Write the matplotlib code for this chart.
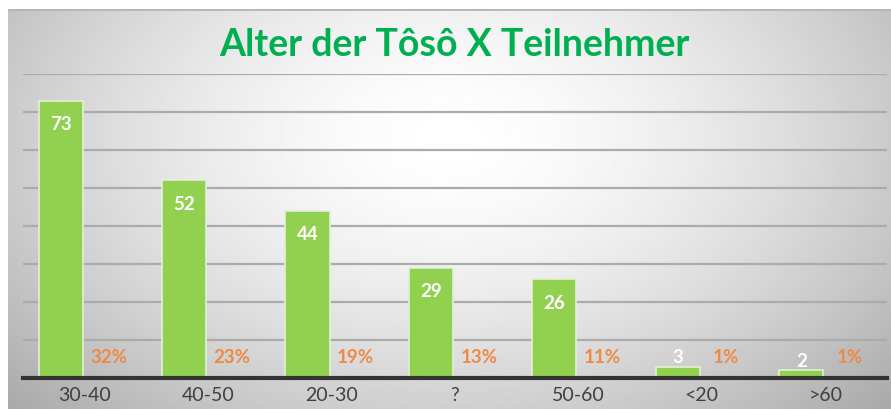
import numpy as np
import matplotlib.pyplot as plt

categories = ['30-40', '40-50', '20-30', '?', '50-60', '<20', '>60']
counts = [73, 52, 44, 29, 26, 3, 2]
percents = [32, 23, 19, 13, 11, 1, 1]
title = 'Alter der Tôsô X Teilnehmer'

plt.rcParams['font.family'] = ['Lato', 'DejaVu Sans']

fig = plt.figure(figsize=(8.91, 4.10), dpi=100)

# radial grey-white background like the office chart area
bg = fig.add_axes([8 / 891, 0, 1 - 8 / 891, 400 / 410])
gx, gy = np.meshgrid(np.linspace(-1, 1, 400), np.linspace(-1, 1, 200))
r = np.sqrt((gx / 1.05) ** 2 + ((gy + 0.35) / 1.5) ** 2)
shade = 1 - 0.22 * np.clip(r, 0, 1.3) ** 1.6
bg.imshow(shade, cmap='gray', vmin=0, vmax=1, aspect='auto', origin='upper',
          extent=[0, 1, 0, 1], interpolation='bilinear')
bg.set_xlim(0, 1)
bg.set_ylim(0, 1)
bg.axhline(1, color='#b5b5b5', linewidth=2)
bg.axis('off')

ax = fig.add_axes([23 / 891, 31 / 410, 864 / 891, 304 / 410])
ax.patch.set_alpha(0)

x = np.arange(len(categories))
off = 0.195
w = 0.357

bars = ax.bar(x - off, counts, width=w, color='#92D050', edgecolor='#E2F0D9',
              linewidth=1.2, zorder=3)

for xi, v in zip(x - off, counts):
    if v >= 10:
        ax.annotate(str(v), (xi, v), xytext=(0, -23), textcoords='offset pixels',
                    ha='center', va='center', color='white', fontsize=13.5,
                    fontweight='bold', zorder=4)
    else:
        ax.annotate(str(v), (xi, v), xytext=(0, 10), textcoords='offset pixels',
                    ha='center', va='center', color='white', fontsize=13.5,
                    fontweight='bold', zorder=4)

for xi, p in zip(x + off, percents):
    ax.annotate(f'{p}%', (xi, 0), xytext=(0, 21), textcoords='offset pixels',
                ha='center', va='center', color='#EE8A45', fontsize=13.5,
                fontweight='bold', zorder=4)

ax.set_xlim(-0.5, len(categories) - 0.5)
ax.set_ylim(0, 80)
ax.set_yticks(np.arange(10, 81, 10))
ax.yaxis.grid(True, color='#ababab', linewidth=1.6, zorder=1)
ax.tick_params(axis='y', left=False, labelleft=False)
ax.set_xticks(x)
ax.set_xticklabels(categories, fontsize=14, color='#404040')
ax.tick_params(axis='x', length=0, pad=6)
for s in ['top', 'right', 'left']:
    ax.spines[s].set_visible(False)
ax.spines['bottom'].set_color('#333333')
ax.spines['bottom'].set_linewidth(3)
ax.spines['bottom'].set_zorder(5)

fig.text(454 / 891, 1 - 45 / 410, title, ha='center', va='center',
         fontsize=27, fontweight='bold', color='#00B050')

fig.savefig('out.png', dpi=100)
